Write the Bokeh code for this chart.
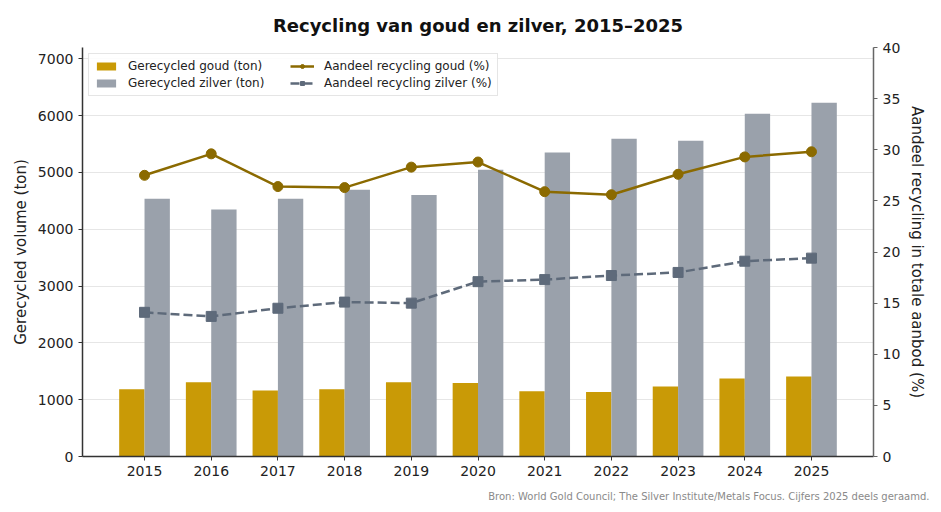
from bokeh.plotting import figure
from bokeh.models import (ColumnDataSource, Range1d, LinearAxis, FixedTicker,
                          SingleIntervalTicker, Legend, LegendItem, Title)
from bokeh.transform import dodge
from bokeh.embed import file_html
from bokeh.resources import INLINE

# data
years = [2015, 2016, 2017, 2018, 2019, 2020, 2021, 2022, 2023, 2024, 2025]
gold_ton = [1184, 1307, 1160, 1184, 1307, 1293, 1149, 1137, 1231, 1372, 1407]
silver_ton = [4537, 4349, 4537, 4696, 4602, 5047, 5352, 5593, 5557, 6032, 6226]
gold_pct = [27.5, 29.6, 26.4, 26.3, 28.3, 28.8, 25.9, 25.6, 27.6, 29.3, 29.8]
silver_pct = [14.1, 13.7, 14.5, 15.1, 15.0, 17.1, 17.3, 17.7, 18.0, 19.1, 19.4]

FONT = "DejaVu Sans"
GOLD = "#C99A06"
SILVER = "#9AA1AB"
GOLD_LINE = "#8B6A00"
SILVER_LINE = "#5E6A7A"

src = ColumnDataSource(dict(year=years, gold_ton=gold_ton, silver_ton=silver_ton,
                            gold_pct=gold_pct, silver_pct=silver_pct))

p = figure(frame_width=791, frame_height=409,
           x_range=Range1d(2014.07, 2025.93), y_range=Range1d(0, 7200),
           output_backend="svg", toolbar_location=None,
           min_border_left=82, min_border_right=60,
           min_border_top=46, min_border_bottom=50)
p.outline_line_color = None

p.title.text = "Recycling van goud en zilver, 2015\u20132025"
p.title.align = "center"
p.title.text_font = FONT
p.title.text_font_size = "18px"
p.title.text_font_style = "bold"
p.title.text_color = "#111111"
p.title.standoff = 24

p.extra_y_ranges = {"pct": Range1d(0, 40)}

bar_w = 0.38
gold_bars = p.vbar(x=dodge("year", -bar_w / 2), top="gold_ton", width=bar_w,
                   source=src, fill_color=GOLD, line_color=None)
silver_bars = p.vbar(x=dodge("year", bar_w / 2), top="silver_ton", width=bar_w,
                     source=src, fill_color=SILVER, line_color=None)

gl = p.line("year", "gold_pct", source=src, y_range_name="pct",
            line_color=GOLD_LINE, line_width=2.5)
gm = p.scatter("year", "gold_pct", source=src, y_range_name="pct",
               marker="circle", size=10, fill_color=GOLD_LINE, line_color=GOLD_LINE)
sl = p.line("year", "silver_pct", source=src, y_range_name="pct",
            line_color=SILVER_LINE, line_width=2.5, line_dash="9 4")
sm = p.scatter("year", "silver_pct", source=src, y_range_name="pct",
               marker="square", size=10, fill_color=SILVER_LINE, line_color=SILVER_LINE)

# axes
p.xaxis.ticker = FixedTicker(ticks=years)
p.yaxis.ticker = SingleIntervalTicker(interval=1000)
p.yaxis.axis_label = "Gerecycled volume (ton)"

right = LinearAxis(y_range_name="pct", ticker=SingleIntervalTicker(interval=5),
                   axis_label="Aandeel recycling in totale aanbod (%)")
p.add_layout(right, "right")

for ax in [p.xaxis[0], p.yaxis[0], right]:
    ax.major_label_text_font = FONT
    ax.major_label_text_font_size = "14px"
    ax.major_label_text_color = "#222222"
    ax.axis_label_text_font = FONT
    ax.axis_label_text_font_size = "15px"
    ax.axis_label_text_font_style = "normal"
    ax.axis_label_text_color = "#222222"
    ax.minor_tick_line_color = None
    ax.major_tick_in = 0
    ax.major_tick_out = 4
    ax.axis_line_width = 1.5
    ax.axis_line_color = "#333333"
    ax.major_tick_line_color = "#333333"
right.axis_line_color = "#666666"
right.major_tick_line_color = "#666666"

p.xgrid.grid_line_color = None
p.ygrid.grid_line_color = "#e6e6e6"
p.ygrid.grid_line_width = 1

legend = Legend(items=[
    LegendItem(label="Gerecycled goud (ton)", renderers=[gold_bars]),
    LegendItem(label="Gerecycled zilver (ton)", renderers=[silver_bars]),
    LegendItem(label="Aandeel recycling goud (%)", renderers=[gl, gm]),
    LegendItem(label="Aandeel recycling zilver (%)", renderers=[sl, sm]),
], location="top_left", orientation="vertical", nrows=2)
legend.margin = 6
legend.padding = 5
legend.spacing = 3
legend.glyph_width = 24
legend.glyph_height = 10
legend.label_height = 12
legend.label_width = 159
legend.label_standoff = 10
legend.label_text_font = FONT
legend.label_text_font_size = "12px"
legend.label_text_color = "#222222"
legend.border_line_color = "#cccccc"
legend.background_fill_alpha = 0.85
p.add_layout(legend)

footer = Title(text="Bron: World Gold Council; The Silver Institute/Metals Focus. Cijfers 2025 deels geraamd.",
               align="right", text_font=FONT, text_font_size="10px",
               text_font_style="normal", text_color="#8a8a8a", offset=-56, standoff=20)
p.add_layout(footer, "below")

open("out.html", "w").write(file_html(p, INLINE))
